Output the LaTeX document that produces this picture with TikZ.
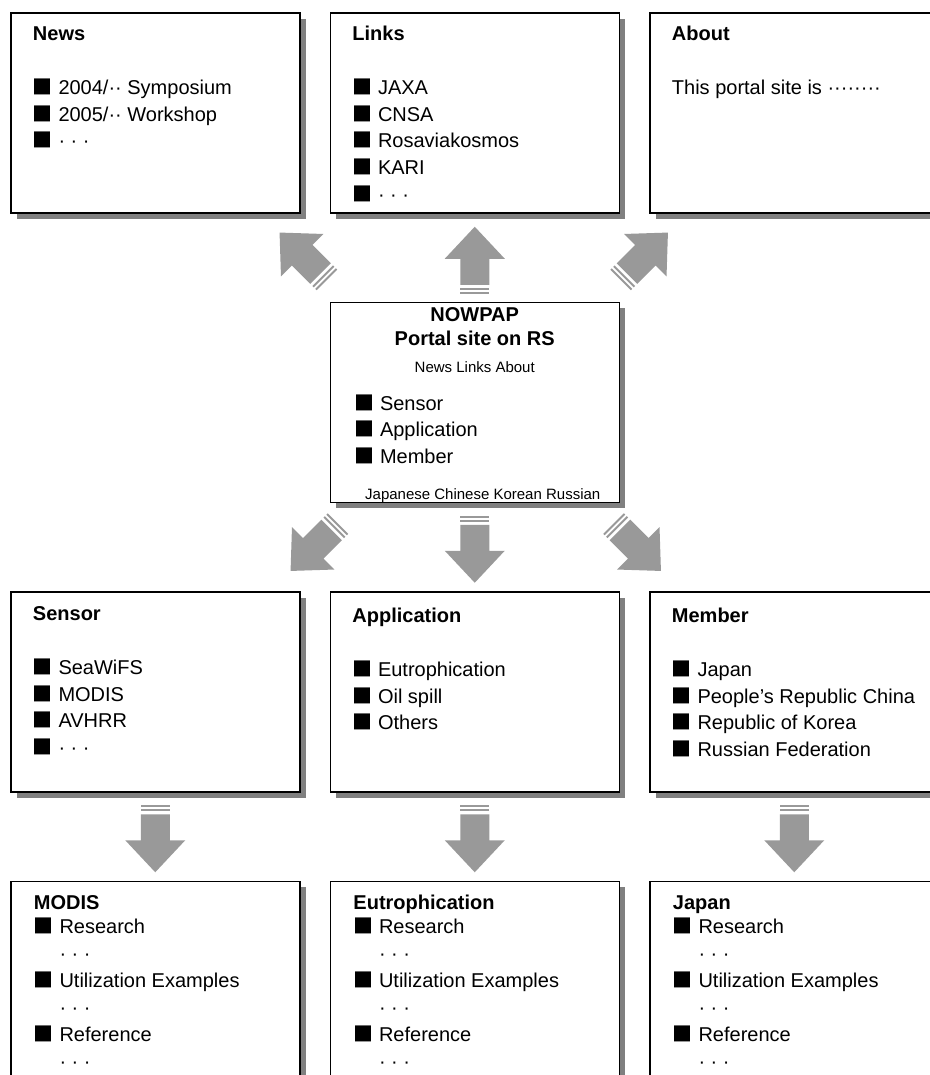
\documentclass[tikz,border=0pt]{standalone}
\usepackage{fontspec}
\setmainfont{Liberation Sans}
\newfontfamily\cjk{Noto Sans CJK JP}
\usepackage{tikz}
\usetikzlibrary{shadows,calc}

\definecolor{arrowgray}{RGB}{153,153,153}
\definecolor{shadowgray}{RGB}{128,128,128}
\newcommand{\bul}{{\cjk ■}\ }
\newcommand{\more}{\phantom{\bul}· · ·}
% lines hanging from the baseline of the first one
\newcommand{\lines}[1]{\parbox[t]{265pt}{\raggedright #1}}

\begin{document}
\begin{tikzpicture}[x=1pt,y=-1pt,
  every matrix/.style={ampersand replacement=\&,column sep=29pt,row sep=88pt,inner sep=0pt,outer sep=0pt},
  page/.style={draw,line width=1.5pt,fill=white,minimum width=289pt,minimum height=200pt,inner sep=0pt,outer sep=0pt,
    general shadow={fill=shadowgray,shadow xshift=6pt,shadow yshift=-6pt}},
  body/.style={anchor=base west,inner sep=0pt,font=\fontsize{20}{26.8}\selectfont},
  small/.style={anchor=base,inner sep=0pt,font=\fontsize{15}{18}\selectfont},
  fatarrow/.pic={
    \fill[arrowgray] (0,-33.5) -- (30,-1.5) -- (14.5,-1.5) -- (14.5,24.5) -- (-14.5,24.5) -- (-14.5,-1.5) -- (-30,-1.5) -- cycle;
    \fill[arrowgray] (-14.5,27.5) rectangle (14.5,29.5);
    \fill[arrowgray] (-14.5,31.5) rectangle (14.5,33.5);
  }]

% white page, cut like the original
\useasboundingbox[fill=white] (0,0) rectangle (929,1075);

% Position the pages using a matrix layout
\matrix[anchor=north west] at (10,12) {
  \node[page] (news) {};
  \& \node[page] (links) {};
  \& \node[page] (about) {};
  \\
  \& \node[page] (portal) {};
  \& \\
  \node[page] (sensor) {};
  \& \node[page] (application) {};
  \& \node[page] (member) {};
  \\
  \node[page] (modis) {};
  \& \node[page] (eutrophication) {};
  \& \node[page] (japan) {};
  \\
};

% Texts of the top pages
\node[body] (news-text) at ([shift={(22,28)}]news.north west)
  {\lines{\textbf{News}\\[26.8pt]\bul 2004/·· Symposium\\ \bul 2005/·· Workshop\\ \bul · · ·}};
\node[body] (links-text) at ([shift={(22,28)}]links.north west)
  {\lines{\textbf{Links}\\[26.8pt]\bul JAXA\\ \bul CNSA\\ \bul Rosaviakosmos\\ \bul KARI\\ \bul · · ·}};
\node[body] (about-text) at ([shift={(22,28)}]about.north west)
  {\lines{\textbf{About}\\[26.8pt]This portal site is ········}};

% The portal page
\node[anchor=base,align=center,inner sep=0pt,font=\bfseries\fontsize{20}{24}\selectfont] (portal-title)
  at ([shift={(0,43)}]portal.north) {NOWPAP\\Portal site on RS};
\node[small] (portal-menu) at ([shift={(0,70)}]portal.north) {News Links About};
\node[body,font=\fontsize{20}{26.5}\selectfont] (portal-list) at ([shift={(24,108)}]portal.north west)
  {\lines{\bul Sensor\\ \bul Application\\ \bul Member}};
\node[small] (portal-lang) at ([shift={(8,-3)}]portal.south) {Japanese Chinese Korean Russian};

% Texts of the middle pages
\node[body] (sensor-text) at ([shift={(22,29)}]sensor.north west)
  {\lines{\textbf{Sensor}\\[26.8pt]\bul SeaWiFS\\ \bul MODIS\\ \bul AVHRR\\ \bul · · ·}};
\node[body] (application-text) at ([shift={(22,31)}]application.north west)
  {\lines{\textbf{Application}\\[26.8pt]\bul Eutrophication\\ \bul Oil spill\\ \bul Others}};
\node[body] (member-text) at ([shift={(22,31)}]member.north west)
  {\lines{\textbf{Member}\\[26.8pt]\bul Japan\\ \bul People’s Republic China\\ \bul Republic of Korea\\ \bul Russian Federation}};

% Texts of the bottom pages
\node[body,font=\fontsize{20}{27}\selectfont] (modis-text) at ([shift={(23,28)}]modis.north west)
  {\lines{\textbf{MODIS}\\[-3pt]\bul Research\\ \more\\ \bul Utilization Examples\\ \more\\ \bul Reference\\ \more}};
\node[body,font=\fontsize{20}{27}\selectfont] (eutrophication-text) at ([shift={(23,28)}]eutrophication.north west)
  {\lines{\textbf{Eutrophication}\\[-3pt]\bul Research\\ \more\\ \bul Utilization Examples\\ \more\\ \bul Reference\\ \more}};
\node[body,font=\fontsize{20}{27}\selectfont] (japan-text) at ([shift={(23,28)}]japan.north west)
  {\lines{\textbf{Japan}\\[-3pt]\bul Research\\ \more\\ \bul Utilization Examples\\ \more\\ \bul Reference\\ \more}};

% Arrows out of the portal page
\pic[rotate=0] at ($(portal.north)+(0,-42)$) {fatarrow};
\pic[rotate=45] at ($(portal.north west)+(-27,-46)$) {fatarrow};
\pic[rotate=-45] at ($(portal.north east)+(25,-46)$) {fatarrow};
\pic[rotate=180] at ($(portal.south)+(0,47)$) {fatarrow};
\pic[rotate=135] at ($(portal.south west)+(-16,45)$) {fatarrow};
\pic[rotate=-135] at ($(portal.south east)+(18,45)$) {fatarrow};

% Arrows down to the detail pages
\foreach \p in {sensor,application,member}
  \pic[rotate=180] at ($(\p.south)+(0,47)$) {fatarrow};

\end{tikzpicture}
\end{document}
